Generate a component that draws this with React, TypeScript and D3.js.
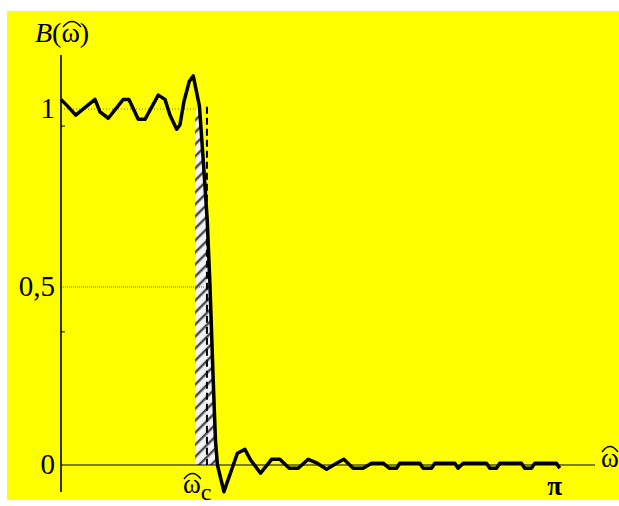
import * as d3 from 'd3'
import React from 'react'

// frequency in units of pi, and the filter's response
const omegaOverPi = [
  0, 0.0147, 0.0296, 0.0684, 0.0785, 0.0952, 0.1254, 0.1368, 0.1555, 0.169,
  0.1958, 0.2093, 0.2193, 0.2328, 0.2394, 0.2475, 0.2581, 0.2662, 0.2787, 0.2863,
  0.2944, 0.2998, 0.3064, 0.3109, 0.3149, 0.328, 0.3551, 0.3702, 0.3817, 0.4018,
  0.4239, 0.4406, 0.4594, 0.4775, 0.4976, 0.5157, 0.5346, 0.5547, 0.5694, 0.5881,
  0.6082, 0.6251, 0.6485, 0.6606, 0.6755, 0.6821, 0.7223, 0.729, 0.7459, 0.7525,
  0.7928, 0.7994, 0.8095, 0.8565, 0.8632, 0.8767, 0.8833, 0.9269, 0.9336, 0.947,
  0.9537, 0.9974, 1.004,
]
const response = [
  1.027, 1.006, 0.983, 1.027, 0.992, 0.974, 1.027, 1.027, 0.971, 0.971,
  1.039, 1.027, 0.983, 0.943, 0.955, 1.021, 1.077, 1.093, 1.008, 0.857,
  0.688, 0.508, 0.239, 0.07, 0, -0.075, 0.033, 0.044, 0.014, -0.023,
  0.016, 0.016, -0.009, -0.009, 0.016, 0.005, -0.012, 0.005, 0.016, -0.009,
  -0.009, 0.005, 0.005, -0.009, -0.009, 0.005, 0.005, -0.009, -0.009, 0.005,
  0.005, -0.009, 0.005, 0.005, -0.009, -0.009, 0.005, 0.005, -0.009, -0.009,
  0.005, 0.005, -0.009,
]

const omegaCutoff = 0.2938 // dashed line, ideal cut-off
const omegaBandStart = 0.2696 // left edge of the hatched band
const yTicks = [0, 0.5, 1]
const yTickLabels = ['0', '0,5', '1']
const yMinorTicks = [0.374, 0.952]

const W = 619
const H = 506
const serif = '"Liberation Serif", "Times New Roman", serif'

// little arch drawn over an omega
const Hat = ({ x0, x1, y }: { x0: number; x1: number; y: number }) => (
  <path
    d={`M${x0},${y} Q${(x0 + x1) / 2},${y - 11} ${x1},${y}`}
    fill="none"
    stroke="#000"
    strokeWidth={1.3}
  />
)

export default function App() {
  const x = d3.scaleLinear().domain([0, 1.075]).range([61, 595])
  const y = d3.scaleLinear().domain([0, 1]).range([465, 109])

  const pts: [number, number][] = omegaOverPi.map((w, i) => [w, response[i]])
  const line = d3
    .line<[number, number]>()
    .x((d) => x(d[0]))
    .y((d) => y(d[1]))

  // hatched band: between the left edge and the falling curve, clipped to 0..1
  const bandPts: [number, number][] = [[omegaBandStart, 1.2]]
  pts.forEach((p) => {
    if (p[0] >= 0.266 && p[0] <= 0.3149) bandPts.push(p)
  })
  bandPts.push([0.3149, -0.1], [omegaBandStart, -0.1])
  const bandPath = line(bandPts) + 'Z'

  return (
    <svg width={W} height={H} style={{ position: 'absolute', left: 0, top: 0 }}>
      <defs>
        <pattern
          id="hatch"
          patternUnits="userSpaceOnUse"
          width={8.5}
          height={8.5}
          patternTransform="rotate(-45)"
        >
          <rect width={8.5} height={8.5} fill="#f3f3f9" />
          <line x1={0} y1={2} x2={8.5} y2={2} stroke="#4a4a4a" strokeWidth={2.4} />
        </pattern>
        <clipPath id="bandClip">
          <rect x={x(omegaBandStart)} y={y(1)} width={60} height={y(0) - y(1)} />
        </clipPath>
      </defs>

      <rect x={0} y={0} width={W} height={H} fill="#fff" />
      <rect x={7} y={11} width={W - 7} height={489} fill="#ffff00" />

      <path d={bandPath} fill="url(#hatch)" clipPath="url(#bandClip)" />

      {/* dotted guide lines */}
      <line x1={x(0)} x2={x(omegaBandStart)} y1={y(1)} y2={y(1)} stroke="#666" strokeWidth={1} strokeDasharray="1,2" />
      <line x1={x(0)} x2={x(omegaCutoff) - 2} y1={y(0.5)} y2={y(0.5)} stroke="#555" strokeWidth={1} strokeDasharray="1,1" />

      {/* axes */}
      <line x1={x(0)} x2={x(0)} y1={y(1.152)} y2={y(-0.076)} stroke="#000" strokeWidth={1.6} />
      <line x1={x(0)} x2={x(1.075)} y1={y(0)} y2={y(0)} stroke="#000" strokeWidth={1.2} />
      {yMinorTicks.map((t) => (
        <line key={t} x1={x(0)} x2={x(0) + 4} y1={y(t)} y2={y(t)} stroke="#000" strokeWidth={1} />
      ))}

      {/* ideal cut-off */}
      <line
        x1={x(omegaCutoff)}
        x2={x(omegaCutoff)}
        y1={y(1.006)}
        y2={y(0)}
        stroke="#000"
        strokeWidth={2}
        strokeDasharray="7,4"
      />

      <path d={line(pts) || ''} fill="none" stroke="#000" strokeWidth={3.5} strokeLinejoin="round" />

      {/* tick labels */}
      {yTicks.map((t, i) => (
        <text key={t} x={55} y={y(t) + 9} textAnchor="end" fontFamily={serif} fontSize={29}>
          {yTickLabels[i]}
        </text>
      ))}
      <text x={x(1) - 3} y={495} textAnchor="middle" fontFamily={serif} fontSize={27} fontWeight="bold">
        π
      </text>
      <text x={x(omegaCutoff) - 24} y={493} fontFamily={serif} fontSize={27}>
        ω<tspan dy={7} fontSize={24}>c</tspan>
      </text>
      <Hat x0={x(omegaCutoff) - 23} x1={x(omegaCutoff) - 6} y={479} />

      {/* axis labels */}
      <text x={35} y={42} fontFamily={serif} fontSize={28}>
        <tspan fontStyle="italic">B</tspan>(ω)
      </text>
      <Hat x0={63} x1={81} y={27} />
      <text x={601} y={467} fontFamily={serif} fontSize={27}>
        ω
      </text>
      <Hat x0={602} x1={618} y={452} />
    </svg>
  )
}
